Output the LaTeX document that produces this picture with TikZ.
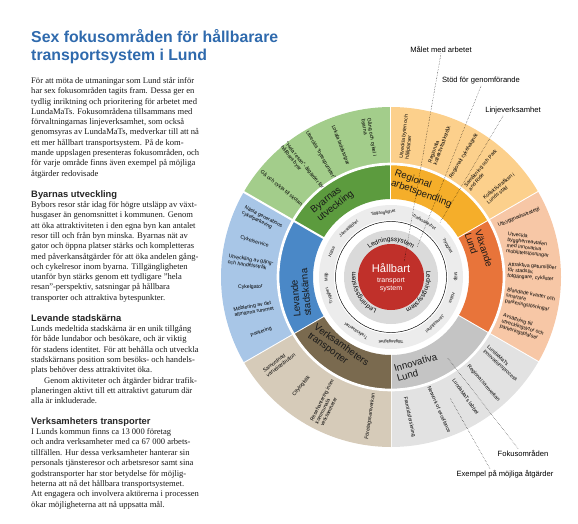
\documentclass[tikz,border=0pt]{standalone}
\usepackage{fontspec}
\setmainfont{Liberation Serif}
\setsansfont{Liberation Sans}
\usepackage{tikz}
\usetikzlibrary{positioning,decorations.text}
\definecolor{LundBlue}{RGB}{47,106,173}
\definecolor{ByGreen}{RGB}{92,155,62}
\definecolor{ByGreenLight}{RGB}{163,205,139}
\definecolor{RegGold}{RGB}{245,174,42}
\definecolor{RegGoldLight}{RGB}{252,208,140}
\definecolor{VaxOrange}{RGB}{232,116,58}
\definecolor{VaxOrangeLight}{RGB}{247,199,166}
\definecolor{InnGrey}{RGB}{196,196,196}
\definecolor{InnGreyLight}{RGB}{226,226,226}
\definecolor{VerBrown}{RGB}{122,106,79}
\definecolor{VerBrownLight}{RGB}{214,203,185}
\definecolor{LevBlue}{RGB}{74,136,199}
\definecolor{LevBlueLight}{RGB}{168,198,231}
\definecolor{CoreRed}{RGB}{192,48,42}
\definecolor{RingGrey}{RGB}{236,236,236}
\definecolor{CoreGrey}{RGB}{218,218,218}
\newcommand{\ledfont}{\sffamily\fontsize{5.5}{6}\selectfont}
\tikzset{
  titletext/.style={anchor=base west, inner sep=0pt, text=LundBlue, font=\sffamily\bfseries\fontsize{13.5}{15}\selectfont},
  bodytext/.style={anchor=base west, inner sep=0pt, text=black!90, font=\fontsize{7.3}{8.8}\selectfont},
  heading/.style={anchor=base west, inner sep=0pt, text=black!85, font=\sffamily\bfseries\fontsize{8}{9}\selectfont},
  focus/.style={align=left, inner sep=0pt, text=black!90, font=\sffamily\fontsize{8.3}{9}\selectfont},
  measure/.style={align=left, inner sep=0pt, font=\sffamily\fontsize{4.4}{4.9}\selectfont},
  aspect/.style={inner sep=0pt, font=\sffamily\fontsize{3.6}{4}\selectfont},
  callout/.style={inner sep=1pt, font=\sffamily\fontsize{6.5}{7.5}\selectfont},
  leader/.style={densely dotted, line width=0.35pt},
}
\begin{document}
\begin{tikzpicture}[x=0.3mm, y=0.3mm]
\useasboundingbox (0,0) rectangle (578,-523);

% rubrik och text
\node[titletext] (title1) at (31,-42.5) {Sex fokusområden för hållbarare};
\node[titletext] (title2) at (31,-61) {transportsystem i Lund};

\foreach \txtline [count=\i] in {
  {För att möta de utmaningar som Lund står inför},
  {har sex fokusområden tagits fram. Dessa ger en},
  {tydlig inriktning och prioritering för arbetet med},
  {LundaMaTs. Fokusområdena tillsammans med},
  {förvaltningarnas linjeverksamhet, som också},
  {genomsyras av LundaMaTs, medverkar till att nå},
  {ett mer hållbart transportsystem. På de kom-},
  {mande uppslagen presenteras fokusområden, och},
  {för varje område finns även exempel på möjliga},
  {åtgärder redovisade}}
  \node[bodytext] (intro-\i) at (31,{-73.2-10.3*\i}) {\txtline};

\node[heading] (byarnas-head) at (31,-197.5) {Byarnas utveckling};
\foreach \txtline [count=\i] in {
  {Bybors resor står idag för högre utsläpp av växt-},
  {husgaser än genomsnittet i kommunen. Genom},
  {att öka attraktiviteten i den egna byn kan antalet},
  {resor till och från byn minska. Byarnas nät av},
  {gator och öppna platser stärks och kompletteras},
  {med påverkansåtgärder för att öka andelen gång-},
  {och cykelresor inom byarna. Tillgängligheten},
  {utanför byn stärks genom ett tydligare ”hela},
  {resan”-perspektiv, satsningar på hållbara},
  {transporter och attraktiva bytespunkter.}}
  \node[bodytext] (byarnas-\i) at (31,{-197.2-10.3*\i}) {\txtline};

\node[heading] (levande-head) at (31,-321.5) {Levande stadskärna};
\foreach \txtline [count=\i] in {
  {Lunds medeltida stadskärna är en unik tillgång},
  {för både lundabor och besökare, och är viktig},
  {för stadens identitet. För att behålla och utveckla},
  {stadskärnans position som besöks- och handels-},
  {plats behöver dess attraktivitet öka.},
  {\hspace*{3.9mm}Genom aktiviteter och åtgärder bidrar trafik-},
  {planeringen aktivt till ett attraktivt gaturum där},
  {alla är inkluderade.}}
  \node[bodytext] (levande-\i) at (31,{-321.2-10.3*\i}) {\txtline};

\node[heading] (verksamhet-head) at (31,-424.5) {Verksamheters transporter};
\foreach \txtline [count=\i] in {
  {I Lunds kommun finns ca 13 000 företag},
  {och andra verksamheter med ca 67 000 arbets-},
  {tillfällen. Hur dessa verksamheter hanterar sin},
  {personals tjänsteresor och arbetsresor samt sina},
  {godstransporter har stor betydelse för möjlig-},
  {heterna att nå det hållbara transportsystemet.},
  {Att engagera och involvera aktörerna i processen},
  {ökar möjligheterna att nå uppsatta mål.}}
  \node[bodytext] (verksamhet-\i) at (31,{-424.1-10.4*\i}) {\txtline};

% hjulet
\begin{scope}[shift={(391,-277)}]
  \foreach \start/\dark/\light in {90/ByGreen/ByGreenLight, 30/RegGold/RegGoldLight,
      -30/VaxOrange/VaxOrangeLight, -90/InnGrey/InnGreyLight,
      -150/VerBrown/VerBrownLight, 150/LevBlue/LevBlueLight} {
    \fill[\light] (\start:112) arc[start angle=\start, end angle={\start+60}, radius=112]
      -- ({\start+60}:170) arc[start angle={\start+60}, end angle=\start, radius=170] -- cycle;
    \fill[\dark] (\start:78) arc[start angle=\start, end angle={\start+60}, radius=78]
      -- ({\start+60}:112) arc[start angle={\start+60}, end angle=\start, radius=112] -- cycle;
    \draw[white, line width=0.6mm] (\start:77) -- (\start:171);
  }
  \draw[white, line width=0.8mm] (0,0) circle[radius=113];

  \fill[RingGrey] (0,0) circle[radius=72];
  \fill[white] (0,0) circle[radius=57];
  \draw[line width=0.4pt] (0,0) circle[radius=55.5];
  \fill[CoreGrey] (0,0) circle[radius=47];
  \fill[CoreRed] (0,0) circle[radius=33];

  \node[inner sep=0pt, text=white, font=\sffamily\fontsize{9.5}{10}\selectfont] (hallbart) at (0,9) {Hållbart};
  \node[inner sep=0pt, text=white, align=center, font=\sffamily\fontsize{6}{7.2}\selectfont] (transport) at (0,-8) {transport\\system};

  \path[decorate, decoration={text along path, text align=center, text={|\ledfont|Ledningssystem}}]
    (150:35.5) arc[start angle=150, end angle=30, radius=35.5];
  \path[decorate, decoration={text along path, text align=center, text={|\ledfont|Ledningssystem}}]
    (32:35.5) arc[start angle=32, end angle=-88, radius=35.5];
  \path[decorate, decoration={text along path, text align=center, text={|\ledfont|Ledningssystem}}]
    (-91:35.5) arc[start angle=-91, end angle=-211, radius=35.5];

  \foreach \ang/\word [count=\i] in {97/Tillgänglighet, 59/Trafiksäkerhet, 29/Trygghet, 0/Miljö,
      -19/Hälsa, -47/Jämställdhet, -90/Tillgänglighet, -123/Trafiksäkerhet, -163/Trygghet,
      180/Miljö, 157/Hälsa, 131/Jämställdhet}
    \node[aspect, rotate={\ang-90}] (aspect-\i) at (\ang:64.5) {\word};

  % fokusområden
  \node[focus, rotate=38] (byarnas) at (128:95) {Byarnas\\utveckling};
  \node[focus, rotate=-20] (regional) at (70:94) {Regional\\arbetspendling};
  \node[focus, rotate=-72] (vaxande) at (17:92) {Växande\\Lund};
  \node[focus, rotate=16] (innovativa) at (-74:94) {Innovativa\\Lund};
  \node[focus, rotate=-36] (verksamheter) at (234:90) {Verksamheters\\transporter};
  \node[focus, rotate=95] (levande) at (190:92) {Levande\\stadskärna};

  % exempel på åtgärder
  \foreach \ang/\rot/\txt [count=\i] in {
      99/-81/{Gång och cykel i\\byarna},
      111/-69/{Lokala laddstolpar},
      120/-60/{Utveckla ”bytespunkter”},
      129/-51/{”Hela resan”- åtgärder för\\hållbara byar},
      141/-39/{Gå och cykla till skolan},
      83.5/83.5/{Utveckla byten och\\hållplatser},
      70/70/{Regionala\\kollektivtrafikstråk},
      59/59/{Regionalt cykelvägnät},
      49.5/49.5/{Samåkning och Park\\and Ride},
      39/39/{Kollektivtrafiken i\\Lunds stad},
      25/22/{Utbyggnadsstrategi},
      13/-6/{Utveckla\\byggherreavtalen\\med innovativa\\mobilitetslösningar},
      2/-4/{Attraktiva gatumiljöer\\för stadsliv,\\fotgängare, cyklister},
      -9.5/-11/{Blandade kvarter och\\smartare\\parkeringslösningar},
      -21/-17/{Avsättning till\\utvecklingsytor och\\parkeringsplatser},
      -38/-42/{LundaMaTs\\innovationsprocess},
      -49/-49/{Regional samverkan},
      -58/-55/{LundaMaTs labbet},
      -70/-66/{Network of excellence},
      -82.5/-78/{Framtidsforskning},
      217.5/37.5/{Samordnad\\varudistribution},
      230.5/50.5/{Citylogistik},
      243/63/{Resehantering inom\\kommunala\\verksamheter},
      261.5/81.5/{Företagssamverkan},
      156/-27/{Nästa generations\\cykelparkering},
      165.5/-17.5/{Cykelservice},
      174/-9/{Utveckling av gång-\\och handelsstråk},
      184/1/{Cykelgator},
      193/10/{Möblering av det\\allmänna rummet},
      203/20/{Parkering}}
    \node[measure, rotate=\rot] (measure-\i) at (\ang:141) {\txt};

  \coordinate (malet-end) at (49:20);
  \coordinate (stod-end) at (49:40);
  \coordinate (linje-end) at (48:73);
  \coordinate (fokus-end) at (-55:99);
  \coordinate (exempel-end) at (-64:135);
\end{scope}

% förklaringar
\node[callout] (malet) at (441,-49) {Målet med arbetet};
\node[callout] (stod) at (481,-81) {Stöd för genomförande};
\node[callout] (linje) at (513,-111) {Linjeverksamhet};
\node[callout] (fokus) at (523,-453) {Fokusområden};
\node[callout] (exempel) at (505,-474) {Exempel på möjliga åtgärder};

\draw[leader] (malet.south) -- (malet-end);
\draw[leader] (stod.south) -- (stod-end);
\draw[leader] ([xshift=-3mm]linje.south) -- (linje-end);
\draw[leader] ([xshift=-1.5mm]fokus.north) -- (fokus-end);
\draw[leader] ([xshift=-4.5mm]exempel.north) -- (exempel-end);
\end{tikzpicture}
\end{document}
